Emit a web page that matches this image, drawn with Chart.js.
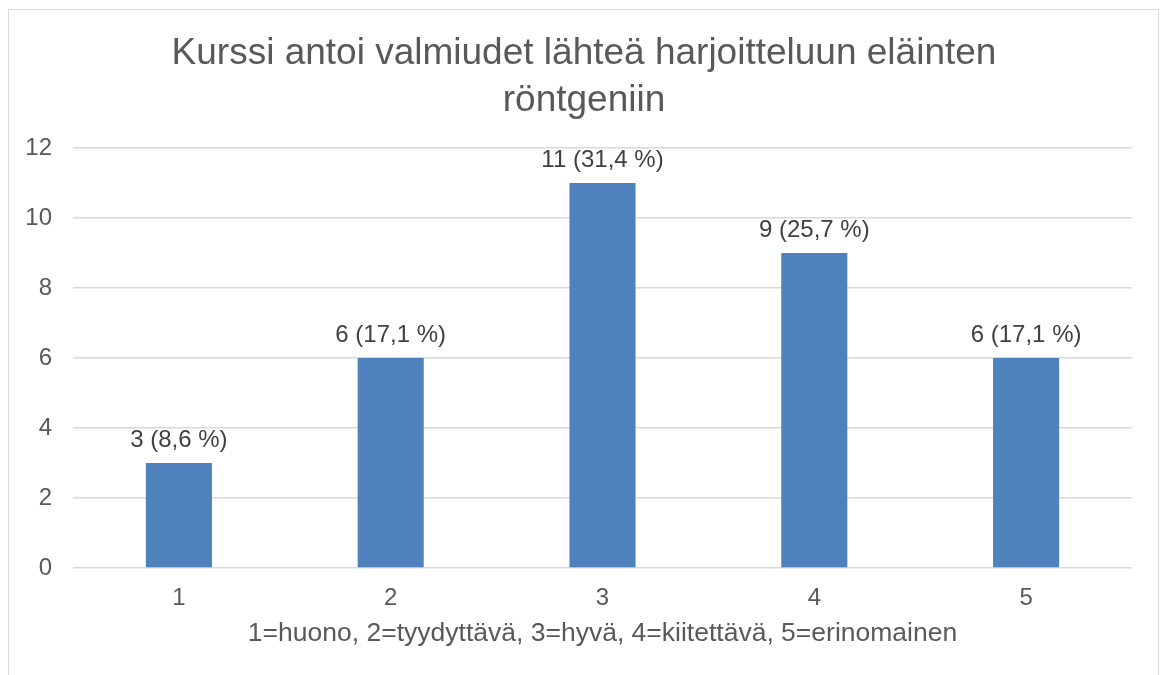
<!DOCTYPE html>
<html>
<head>
<meta charset="utf-8">
<script src="https://cdn.jsdelivr.net/npm/chart.js@4"></script>
<style>
  html, body { margin: 0; padding: 0; background: #fff; overflow: hidden; }
  #frame { position: absolute; left: 8px; top: 9px; width: 1151px; height: 700px; border: 1px solid #d9d9d9; box-sizing: border-box; }
  #c { position: absolute; left: 0; top: 0; }
</style>
</head>
<body>
<div id="frame"></div>
<canvas id="c" width="1162" height="675"></canvas>
<script>
const categories = ['1', '2', '3', '4', '5'];
const counts = [3, 6, 11, 9, 6];
const percentLabels = ['8,6 %', '17,1 %', '31,4 %', '25,7 %', '17,1 %'];
const yTicks = [0, 2, 4, 6, 8, 10, 12];
const titleLines = ['Kurssi antoi valmiudet lähteä harjoitteluun eläinten', 'röntgeniin'];
const xAxisTitle = '1=huono, 2=tyydyttävä, 3=hyvä, 4=kiitettävä, 5=erinomainen';

const FONT = "'Liberation Sans', Arial, sans-serif";
const TEXT = '#595959';

const dataLabels = {
  id: 'dataLabels',
  afterDatasetsDraw(chart) {
    const ctx = chart.ctx;
    const meta = chart.getDatasetMeta(0);
    ctx.save();
    ctx.font = '24px ' + FONT;
    ctx.fillStyle = '#404040';
    ctx.textAlign = 'center';
    ctx.textBaseline = 'alphabetic';
    meta.data.forEach((bar, i) => {
      ctx.fillText(counts[i] + ' (' + percentLabels[i] + ')', bar.x, bar.y - 16);
    });
    ctx.restore();
  }
};

new Chart(document.getElementById('c'), {
  type: 'bar',
  data: {
    labels: categories,
    datasets: [{
      data: counts,
      backgroundColor: '#4f81bd',
      borderWidth: 0,
      categoryPercentage: 1,
      barPercentage: 0.312
    }]
  },
  options: {
    responsive: false,
    animation: false,
    layout: { padding: { left: 6, right: 0, top: 0, bottom: 0 } },
    plugins: {
      legend: { display: false },
      tooltip: { enabled: false },
      title: {
        display: true,
        text: titleLines,
        color: TEXT,
        font: { family: FONT, size: 37, weight: 'normal', lineHeight: 1.27 },
        padding: { top: 30, bottom: 24 }
      }
    },
    scales: {
      x: {
        grid: { display: false, drawTicks: false },
        border: { display: false },
        ticks: { color: TEXT, font: { family: FONT, size: 24 }, padding: 16 },
        title: {
          display: true,
          text: xAxisTitle,
          color: TEXT,
          font: { family: FONT, size: 26.5 },
          padding: { top: 0, bottom: 25 }
        },
        afterFit(scale) { scale.height = 107; }
      },
      y: {
        min: 0,
        max: 12,
        afterBuildTicks(scale) { scale.ticks = yTicks.map(v => ({ value: v })); },
        grid: { color: '#d9d9d9', lineWidth: 1.5, drawTicks: false },
        border: { display: false },
        ticks: { color: TEXT, font: { family: FONT, size: 24 }, padding: 21 },
        afterFit(scale) { scale.width = 67; }
      },
      yRight: {
        position: 'right',
        min: 0,
        max: 12,
        grid: { display: false, drawTicks: false },
        border: { display: false },
        ticks: { display: false },
        afterFit(scale) { scale.width = 30; }
      }
    }
  },
  plugins: [dataLabels]
});
</script>
</body>
</html>
